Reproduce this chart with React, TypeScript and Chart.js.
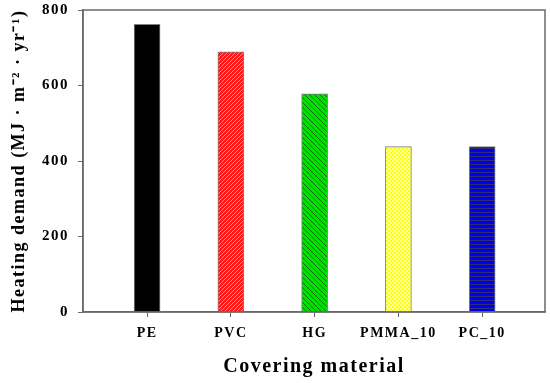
import React, { useEffect, useRef } from "react";
import { Chart, registerables } from "chart.js";

Chart.register(...registerables);

const categories = ["PE", "PVC", "HG", "PMMA_10", "PC_10"];
const heatingDemand = [762, 689, 578, 438, 438];
const yTicks = [0, 200, 400, 600, 800];

function makePattern(kind: string): CanvasPattern | string {
  const c = document.createElement("canvas");
  const ctx = c.getContext("2d")!;
  if (kind === "red") {
    c.width = 4; c.height = 4;
    ctx.fillStyle = "#ff1a1a"; ctx.fillRect(0, 0, 4, 4);
    ctx.fillStyle = "#ff8a8a";
    for (let i = 0; i < 4; i++) ctx.fillRect(3 - i, i, 1, 1);
  } else if (kind === "green") {
    c.width = 5; c.height = 5;
    ctx.fillStyle = "#00e000"; ctx.fillRect(0, 0, 5, 5);
    ctx.fillStyle = "#107010";
    for (let i = 0; i < 5; i++) ctx.fillRect(i, i, 1, 1);
  } else if (kind === "yellow") {
    c.width = 4; c.height = 4;
    ctx.fillStyle = "#ffff10"; ctx.fillRect(0, 0, 4, 4);
    ctx.fillStyle = "#ffffa0";
    ctx.fillRect(0, 0, 2, 2); ctx.fillRect(2, 2, 2, 2);
  } else if (kind === "blue") {
    c.width = 4; c.height = 4;
    ctx.fillStyle = "#0000f0"; ctx.fillRect(0, 0, 4, 4);
    ctx.fillStyle = "#303070"; ctx.fillRect(0, 0, 4, 1);
  } else {
    return "#000000";
  }
  return ctx.createPattern(c, "repeat")!;
}

const spacingPlugin = {
  id: "spacing",
  beforeLayout(chart: any) { (chart.ctx as any).letterSpacing = "1.5px"; },
  beforeDraw(chart: any) { (chart.ctx as any).letterSpacing = "1.5px"; },
};

const framePlugin = {
  id: "frame",
  afterDraw(chart: any) {
    const { ctx, chartArea } = chart;
    ctx.save();
    ctx.strokeStyle = "#6a6a6a";
    ctx.lineWidth = 1.5;
    ctx.strokeRect(chartArea.left, chartArea.top, chartArea.right - chartArea.left, chartArea.bottom - chartArea.top);
    ctx.restore();
  },
};

export default function App() {
  const ref = useRef<HTMLCanvasElement>(null);
  useEffect(() => {
    document.body.style.margin = "0";
    const patterns = [makePattern("black"), makePattern("red"), makePattern("green"), makePattern("yellow"), makePattern("blue")];
    const chart = new Chart(ref.current!, {
      type: "bar",
      data: {
        datasets: [
          {
            data: heatingDemand.map((v, i) => ({ x: i, y: v })),
            backgroundColor: patterns as any,
            borderColor: "#808080",
            borderWidth: 1,
            barThickness: 26,
          },
        ],
      },
      options: {
        animation: false,
        responsive: false,
        layout: { padding: { top: 10, right: 5, left: 0, bottom: 0 } },
        plugins: { legend: { display: false }, tooltip: { enabled: false } },
        scales: {
          x: {
            type: "linear",
            min: -0.765,
            max: 4.75,
            offset: false,
            afterBuildTicks: (scale: any) => {
              scale.ticks = categories.map((_, i) => ({ value: i }));
            },
            afterFit: (scale: any) => { scale.height = 71; scale.paddingLeft = 0; scale.paddingRight = 0; },
            ticks: {
              callback: (v: any) => categories[v as number] ?? "",
              color: "#000",
              font: { family: "Liberation Serif", weight: "bold", size: 14 },
              padding: 8,
              maxRotation: 0,
              autoSkip: false,
            },
            grid: { offset: false, drawOnChartArea: false, drawTicks: true, tickLength: 5, color: "#6a6a6a" },
            border: { display: true, color: "#6a6a6a", width: 1.5 },
            title: {
              display: true,
              text: "Covering material",
              color: "#000",
              font: { family: "Liberation Serif", weight: "bold", size: 20 },
              padding: { top: 8, bottom: 4 },
            },
          },
          y: {
            min: 0,
            max: 800,
            afterBuildTicks: (scale: any) => {
              scale.ticks = yTicks.map((v) => ({ value: v }));
            },
            afterFit: (scale: any) => { scale.width = 83; scale.paddingTop = 0; scale.paddingBottom = 0; },
            ticks: {
              color: "#000",
              font: { family: "Liberation Serif", weight: "bold", size: 15 },
              padding: 9,
            },
            grid: { drawOnChartArea: false, drawTicks: true, tickLength: 5, color: "#6a6a6a" },
            border: { display: true, color: "#6a6a6a", width: 1.5 },
            title: {
              display: true,
              text: "Heating demand (MJ · m⁻² · yr⁻¹)",
              color: "#000",
              font: { family: "Liberation Serif", weight: "bold", size: 18 },
              padding: { top: 9, bottom: 4 },
            },
          },
        },
      },
      plugins: [spacingPlugin, framePlugin],
    });
    return () => chart.destroy();
  }, []);
  return (
    <div style={{ width: 550, height: 383 }}>
      <canvas ref={ref} width={550} height={383} />
    </div>
  );
}
